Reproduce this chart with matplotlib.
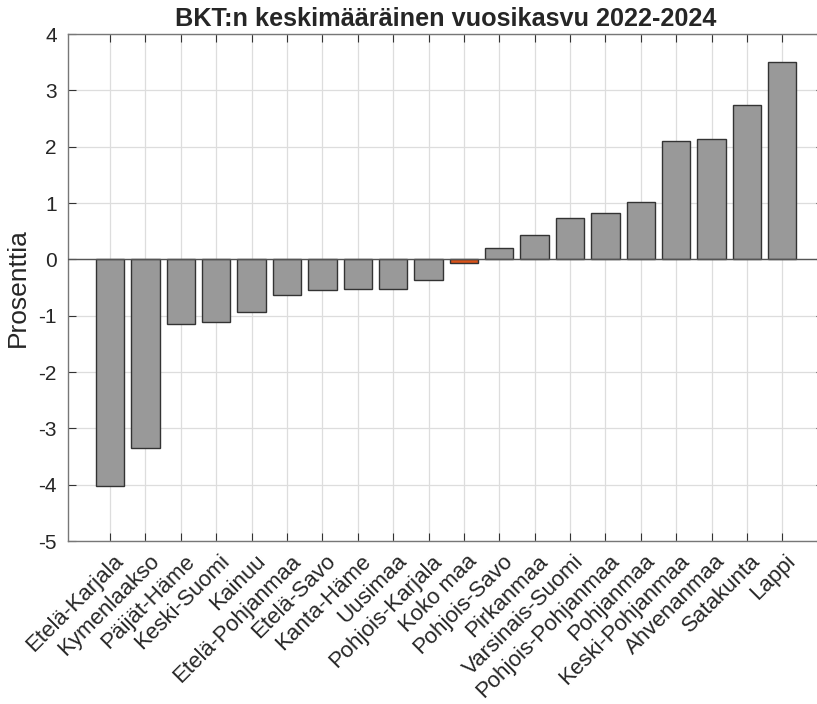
import matplotlib
matplotlib.use('Agg')
import matplotlib.pyplot as plt
import matplotlib.transforms as mtransforms
import numpy as np

regions = ['Etelä-Karjala', 'Kymenlaakso', 'Päijät-Häme', 'Keski-Suomi', 'Kainuu',
           'Etelä-Pohjanmaa', 'Etelä-Savo', 'Kanta-Häme', 'Uusimaa', 'Pohjois-Karjala',
           'Koko maa', 'Pohjois-Savo', 'Pirkanmaa', 'Varsinais-Suomi', 'Pohjois-Pohjanmaa',
           'Pohjanmaa', 'Keski-Pohjanmaa', 'Ahvenanmaa', 'Satakunta', 'Lappi']
growth = [-4.03, -3.35, -1.14, -1.12, -0.94, -0.64, -0.55, -0.53, -0.53, -0.37,
          -0.07, 0.21, 0.43, 0.73, 0.83, 1.01, 2.10, 2.13, 2.74, 3.50]
yticks = [-5, -4, -3, -2, -1, 0, 1, 2, 3, 4]

plt.rcParams['font.family'] = ['Liberation Sans', 'DejaVu Sans']
plt.rcParams['axes.unicode_minus'] = False

fig = plt.figure(figsize=(8.17, 7.04), dpi=100)
ax = fig.add_axes([0.0832, 0.2315, 0.925, 0.7202])

x = np.arange(len(regions))
colors = ['#D95319' if r == 'Koko maa' else '#999999' for r in regions]
ax.bar(x, growth, width=0.8, color=colors, edgecolor='#333333', linewidth=1.0, zorder=3)
ax.axhline(0, color='#555555', linewidth=1.0, zorder=4)

ax.set_xlim(-1.19, 20.17)
ax.set_ylim(-5, 4)
ax.set_yticks(yticks)
ax.set_xticks(x)
ax.set_xticklabels(regions, rotation=45, ha='right', va='top',
                   rotation_mode='anchor', fontsize=16, color='#262626')
ax.tick_params(axis='x', pad=7)
ax.tick_params(axis='y', labelsize=15, labelcolor='#262626', pad=8)
ax.tick_params(direction='in', top=True, right=True, length=6, color='#333333')

# shift the rotated labels a little to the right, like the original
shift = mtransforms.ScaledTranslation(0.03, 0, fig.dpi_scale_trans)
for lbl in ax.get_xticklabels():
    lbl.set_transform(lbl.get_transform() + shift)

ax.grid(True, color='#dddddd', linewidth=0.9, zorder=0)
ax.set_axisbelow(True)
for s in ax.spines.values():
    s.set_color('#777777')
    s.set_linewidth(1.0)

ax.set_ylabel('Prosenttia', fontsize=19, color='#262626', labelpad=6)
ax.set_title('BKT:n keskimääräinen vuosikasvu 2022-2024', fontsize=18.2,
             fontweight='bold', color='#262626', pad=6)

fig.savefig('out.png', dpi=100)
